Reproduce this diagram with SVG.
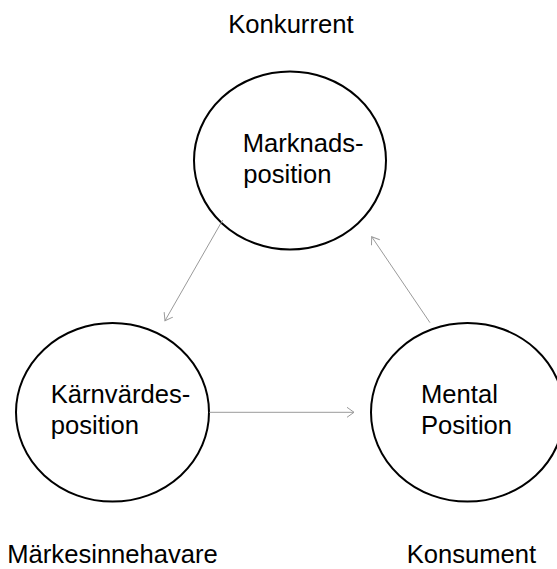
<svg xmlns="http://www.w3.org/2000/svg" width="557" height="569" viewBox="0 0 557 569">
  <style>
    .node { fill: #ffffff; stroke: #000000; stroke-width: 2; }
    .label { font-family: "Liberation Sans", Arial, sans-serif; font-size: 25.6px; fill: #000000; }
    .link { fill: none; stroke: #9a9a9a; stroke-width: 1; marker-end: url(#arrow); }
  </style>
  <defs>
    <marker id="arrow" markerUnits="userSpaceOnUse" markerWidth="16" markerHeight="16" refX="0" refY="0" viewBox="-10 -8 12 16" orient="auto" overflow="visible">
      <path d="M-7,-5 L0,0 L-7,5" fill="none" stroke="#9a9a9a" stroke-width="1"/>
    </marker>
  </defs>

  <rect width="557" height="569" fill="#ffffff"/>

  <!-- Role captions -->
  <g id="captions">
    <text class="label" x="228.3" y="33.3">Konkurrent</text>
    <text class="label" x="7.3" y="563">Märkesinnehavare</text>
    <text class="label" x="406.7" y="563">Konsument</text>
  </g>

  <!-- Positions -->
  <g id="marknadsposition">
    <ellipse class="node" cx="290" cy="160.5" rx="96" ry="89"/>
    <text class="label" x="242.7" y="151.5">Marknads-</text>
    <text class="label" x="243.3" y="182.8">position</text>
  </g>

  <g id="karnvardesposition">
    <ellipse class="node" cx="112.5" cy="412.3" rx="96.5" ry="89.3"/>
    <text class="label" x="50.8" y="403">Kärnvärdes-</text>
    <text class="label" x="50.8" y="433.5">position</text>
  </g>

  <g id="mentalposition">
    <ellipse class="node" cx="467.5" cy="412.3" rx="96.5" ry="89.3"/>
    <text class="label" x="421" y="403">Mental</text>
    <text class="label" x="421" y="433.5">Position</text>
  </g>

  <!-- Connectors -->
  <g id="connectors">
    <line class="link" x1="222.7" y1="220" x2="165" y2="320.7"/>
    <line class="link" x1="209.3" y1="412.3" x2="354" y2="412.3"/>
    <line class="link" x1="430" y1="322.7" x2="371.7" y2="236.7"/>
  </g>
</svg>
